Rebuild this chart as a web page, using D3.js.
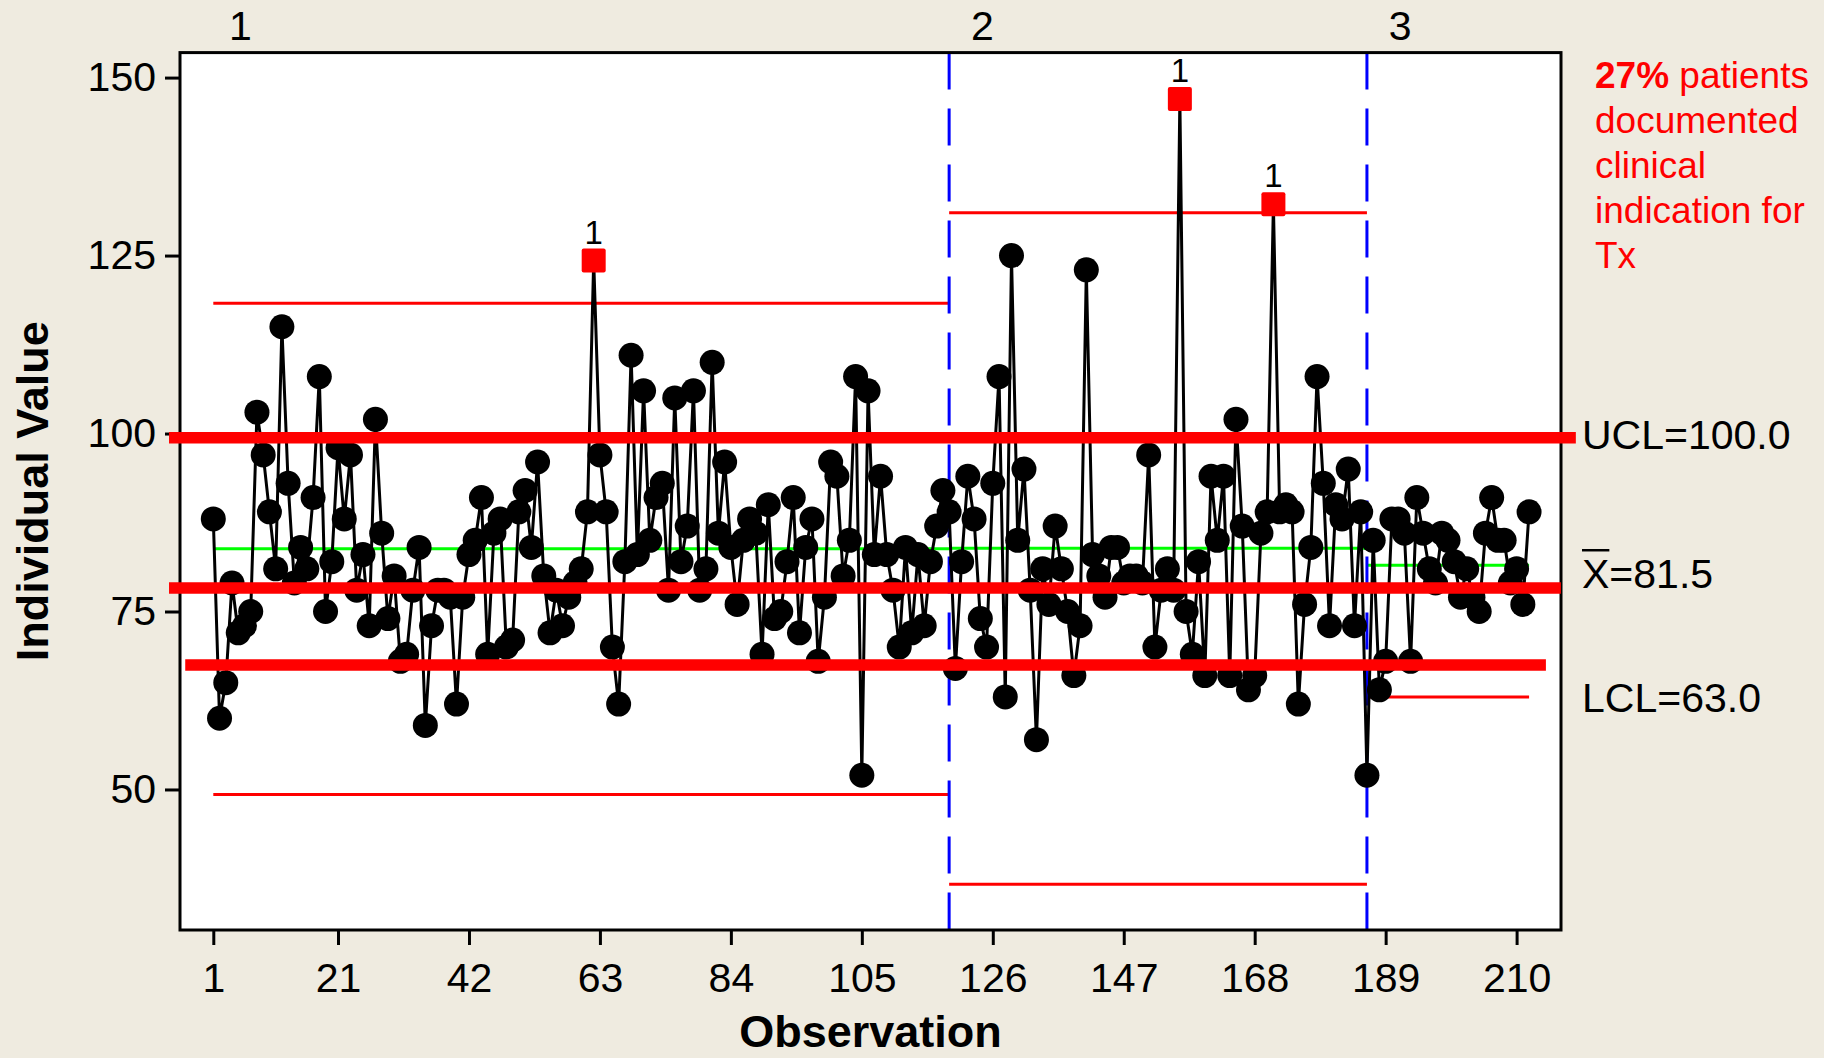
<!DOCTYPE html>
<html><head><meta charset="utf-8">
<script src="https://cdn.jsdelivr.net/npm/d3@7"></script>
<style>
html,body{margin:0;padding:0;background:#EFEBE0;}
svg{display:block;}
</style></head>
<body><svg id="chart" width="1824" height="1058"></svg>
<script>
// ---------------- DATA ----------------
const stage1Values = [88,60,65,79,72,73,75,103,97,89,81,115,93,79,84,81,91,108,75,82,
  98,88,97,78,83,73,102,86,74,80,68,69,78,84,59,73,78,78,77,62,
  77,83,85,91,69,86,88,70,71,89,92,84,96,80,72,78,73,77,79,81,
  89,124.3,97,89,70,62,82,111,83,106,85,91,93,78,105,82,87,106,78,81,
  110,86,96,84,76,85,88,86,69,90,74,75,82,91,72,84,88,68,77,96,
  94,80,85,108,52,106,83,94,83,78,70,84,72,83,73,82,87,92,89];
const stage2Values = [67,82,94,88,74,70,93,108,63,125,85,95,78,57,81,76,87,81,75,66,
  73,123,83,80,77,84,84,79,80,80,79,97,70,78,81,78,147,75,69,82,
  66,94,85,94,66,102,87,64,66,86,89,132.2,89,90,89,62,76,84,108,93,
  73,90,88,95,73,89,52];
const stage3Values = [85,64,68,88,88,86,68,91,86,81,79,86,85,82,77,81,77,75,86,91,
  85,85,79,81,76,89];
const stageNames = ["1","2","3"];
const stageUCL = [118.3, 131.0, 100.0];
const stageCL  = [83.8, 83.9, 81.5];
const stageLCL = [49.3, 36.7, 63.0];
const xTickValues = [1,21,42,63,84,105,126,147,168,189,210];
const yTickValues = [50,75,100,125,150];
const limitLabelNames = ["UCL", "X", "LCL"];
const limitLabelValues = [100.0, 81.5, 63.0];
const overlayLevels = [99.4, 78.3, 67.5];
const overlaySpans = [[-6.1, 219.5], [-6.1, 217.1], [-3.5, 214.7]];
const noteBold = "27%";
const noteLines = [" patients", "documented", "clinical", "indication for", "Tx"];

// ---------------- SETUP ----------------
const svg = d3.select("#chart");
const W = 1824, H = 1058;
const plot = {left:180, right:1561, top:52.6, bottom:930};
const FONT = "'Liberation Sans', Arial, Helvetica, sans-serif";

svg.append("rect").attr("width", W).attr("height", H).attr("fill", "#EFEBE0");

const stages = [stage1Values, stage2Values, stage3Values];
const points = [];
let obs = 1;
const stageEnd = [];
stages.forEach((vals, si) => {
  vals.forEach(v => { points.push({obs: obs, value: v, stage: si}); obs++; });
  stageEnd.push(obs - 1);
});
const stageStart = stageEnd.map((e, i) => i === 0 ? 1 : stageEnd[i-1] + 1);

const x = d3.scaleLinear().domain([-4.34, 217.12]).range([plot.left, plot.right]);
const y = d3.scaleLinear().domain([30.26, 153.51]).range([plot.bottom, plot.top]);

// plot area
svg.append("rect")
  .attr("x", plot.left).attr("y", plot.top)
  .attr("width", plot.right - plot.left).attr("height", plot.bottom - plot.top)
  .attr("fill", "#ffffff");

// axes
const yAxis = svg.append("g").attr("transform", `translate(${plot.left},0)`)
  .call(d3.axisLeft(y).tickValues(yTickValues).tickSize(15).tickPadding(9).tickFormat(d3.format("d")));
const xAxis = svg.append("g").attr("transform", `translate(0,${plot.bottom})`)
  .call(d3.axisBottom(x).tickValues(xTickValues).tickSize(15).tickPadding(18).tickFormat(d3.format("d")));
[yAxis, xAxis].forEach(g => {
  g.select(".domain").remove();
  g.selectAll(".tick line").attr("stroke", "#000").attr("stroke-width", 3);
  g.selectAll(".tick text").attr("fill", "#000").style("font-family", FONT).style("font-size", "41px");
});

// stage limits (thin lines)
const segX0 = i => x(i === 0 ? 1 : stageEnd[i-1]);
const segX1 = i => x(stageEnd[i]);
stageNames.forEach((s, i) => {
  [stageUCL[i], stageLCL[i]].forEach(v => {
    svg.append("line").attr("x1", segX0(i)).attr("x2", segX1(i))
      .attr("y1", y(v)).attr("y2", y(v))
      .attr("stroke", "#ff0000").attr("stroke-width", 3);
  });
  svg.append("line").attr("x1", segX0(i)).attr("x2", segX1(i))
    .attr("y1", y(stageCL[i])).attr("y2", y(stageCL[i]))
    .attr("stroke", "#00ff00").attr("stroke-width", 3);
});

// stage boundaries
stageEnd.slice(0, -1).forEach(e => {
  svg.append("line").attr("x1", x(e)).attr("x2", x(e))
    .attr("y1", plot.top).attr("y2", plot.bottom)
    .attr("stroke", "#0000ff").attr("stroke-width", 3)
    .attr("stroke-dasharray", "37,19");
});

// stage names above plot
stageNames.forEach((s, i) => {
  svg.append("text").attr("x", x(stageStart[i]) + 27).attr("y", 40)
    .attr("text-anchor", "middle").style("font-family", FONT).style("font-size", "41px")
    .attr("fill", "#000").text(s);
});

// connecting line
svg.append("path").datum(points)
  .attr("d", d3.line().x(d => x(d.obs)).y(d => y(d.value)))
  .attr("fill", "none").attr("stroke", "#000").attr("stroke-width", 3).attr("stroke-linejoin", "round");

const isOut = d => d.value > stageUCL[d.stage] || d.value < stageLCL[d.stage];

svg.selectAll("circle.pt").data(points.filter(d => !isOut(d))).enter()
  .append("circle").attr("class", "pt")
  .attr("cx", d => x(d.obs)).attr("cy", d => y(d.value)).attr("r", 12.5).attr("fill", "#000");

const outs = points.filter(isOut);
const sq = 24;
svg.selectAll("rect.out").data(outs).enter().append("rect").attr("class", "out")
  .attr("x", d => x(d.obs) - sq/2).attr("y", d => y(d.value) - sq/2)
  .attr("width", sq).attr("height", sq).attr("rx", 2).attr("fill", "#ff0000");
svg.selectAll("text.outlab").data(outs).enter().append("text").attr("class", "outlab")
  .attr("x", d => x(d.obs)).attr("y", d => y(d.value) - 17)
  .attr("text-anchor", "middle").style("font-family", FONT).style("font-size", "33px")
  .attr("fill", "#000").text("1");

// frame
svg.append("rect")
  .attr("x", plot.left).attr("y", plot.top)
  .attr("width", plot.right - plot.left).attr("height", plot.bottom - plot.top)
  .attr("fill", "none").attr("stroke", "#000").attr("stroke-width", 3);

// thick overlay lines
overlayLevels.forEach((v, i) => {
  svg.append("line").attr("x1", x(overlaySpans[i][0])).attr("x2", x(overlaySpans[i][1]))
    .attr("y1", y(v)).attr("y2", y(v))
    .attr("stroke", "#ff0000").attr("stroke-width", 11.5);
});

// limit labels on right
const fmt = d3.format(".1f");
limitLabelNames.forEach((n, i) => {
  const base = y(limitLabelValues[i]) + (n === "X" ? 23 : 15);
  const t = svg.append("text").attr("x", 1582).attr("y", base)
    .style("font-family", FONT).style("font-size", "41px").attr("fill", "#000")
    .text(n + "=" + fmt(limitLabelValues[i]));
  if (n === "X") {
    const w = t.node().getSubStringLength(0, 1);
    svg.append("line").attr("x1", 1582).attr("x2", 1582 + w)
      .attr("y1", base - 38).attr("y2", base - 38)
      .attr("stroke", "#000").attr("stroke-width", 2.5);
  }
});

// note text
const note = svg.append("text").attr("x", 1595).attr("y", 88)
  .style("font-family", FONT).style("font-size", "37px").attr("fill", "#ff0000");
noteLines.forEach((l, i) => {
  if (i === 0) {
    note.append("tspan").attr("x", 1595).attr("y", 88).style("font-weight", "bold").text(noteBold);
    note.append("tspan").text(l);
  } else {
    note.append("tspan").attr("x", 1595).attr("y", 88 + i * 45).text(l);
  }
});

// axis titles
svg.append("text").attr("x", (plot.left + plot.right) / 2).attr("y", 1047)
  .attr("text-anchor", "middle").style("font-family", FONT).style("font-size", "45px")
  .style("font-weight", "bold").attr("fill", "#000").text("Observation");
svg.append("text").attr("transform", `translate(48,${(plot.top + plot.bottom) / 2}) rotate(-90)`)
  .attr("text-anchor", "middle").style("font-family", FONT).style("font-size", "45px")
  .style("font-weight", "bold").attr("fill", "#000").text("Individual Value");
</script>
</body></html>
